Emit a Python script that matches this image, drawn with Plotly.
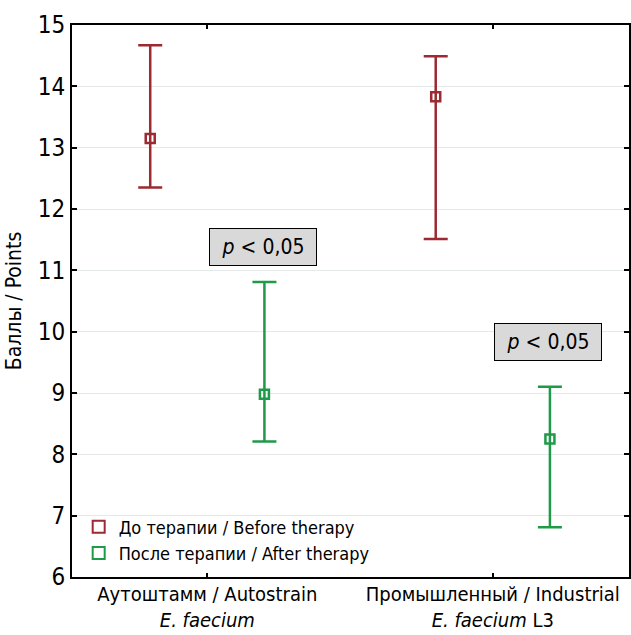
import plotly.graph_objects as go

categories = ["Аутоштамм / Autostrain<br><i>E. faecium</i>", "Промышленный / Industrial<br><i>E. faecium</i> L3"]
before_mean = [13.15, 13.83]
before_hi = [14.67, 14.49]
before_lo = [12.35, 11.51]
after_mean = [8.98, 8.25]
after_hi = [10.81, 9.10]
after_lo = [8.21, 6.81]
pval_text = ["<i>p</i> < 0,05", "<i>p</i> < 0,05"]
pval_y = [11.38, 9.83]

FONT = "DejaVu Sans Condensed"
RED = "#9b2a33"
GREEN = "#1f9a48"
off = 0.2
idx = list(range(len(categories)))

fig = go.Figure()
fig.add_trace(go.Scatter(
    x=[i - off for i in idx], y=before_mean, mode="markers",
    name="До терапии / Before therapy",
    marker=dict(symbol="square-open", size=9, color=RED, line=dict(width=2.5)),
    error_y=dict(type="data", symmetric=False,
                 array=[h - m for h, m in zip(before_hi, before_mean)],
                 arrayminus=[m - l for m, l in zip(before_mean, before_lo)],
                 color=RED, thickness=2.5, width=12),
))
fig.add_trace(go.Scatter(
    x=[i + off for i in idx], y=after_mean, mode="markers",
    name="После терапии / After therapy",
    marker=dict(symbol="square-open", size=9, color=GREEN, line=dict(width=2.5)),
    error_y=dict(type="data", symmetric=False,
                 array=[h - m for h, m in zip(after_hi, after_mean)],
                 arrayminus=[m - l for m, l in zip(after_mean, after_lo)],
                 color=GREEN, thickness=2.5, width=12),
))
for i, (t, yv) in enumerate(zip(pval_text, pval_y)):
    fig.add_annotation(x=i + off - 0.005, y=yv, text=t, showarrow=False,
                       font=dict(family=FONT, size=21, color="black"),
                       bgcolor="#d9d9d9", bordercolor="black", borderwidth=1,
                       width=104, height=34)

fig.update_layout(
    width=631, height=635,
    margin=dict(l=72, r=2, t=25, b=58),
    paper_bgcolor="white", plot_bgcolor="white",
    font=dict(family=FONT, size=21, color="black"),
    showlegend=True,
    legend=dict(x=0.012, y=0.01, xanchor="left", yanchor="bottom",
                bgcolor="rgba(0,0,0,0)", font=dict(size=18),
                itemsizing="constant", tracegroupgap=0, itemwidth=30),
)
fig.update_xaxes(range=[-0.474, 1.477], tickvals=idx, ticktext=categories,
                 showline=True, linecolor="black", linewidth=2, mirror="ticks",
                 ticks="inside", ticklen=4, tickwidth=2, tickcolor="black",
                 showgrid=False, zeroline=False, tickfont=dict(size=20),
                 automargin=False, ticklabelstandoff=-2)
fig.update_yaxes(range=[6, 15], dtick=1, title=dict(text="Баллы / Points", font=dict(size=21), standoff=10),
                 showline=True, linecolor="black", linewidth=2, mirror="ticks",
                 ticks="inside", ticklen=5, tickwidth=2, tickcolor="black",
                 showgrid=True, gridcolor="#e6e9ea", gridwidth=1, zeroline=False,
                 tickfont=dict(size=24), automargin=False)

fig.write_html("out.html")
